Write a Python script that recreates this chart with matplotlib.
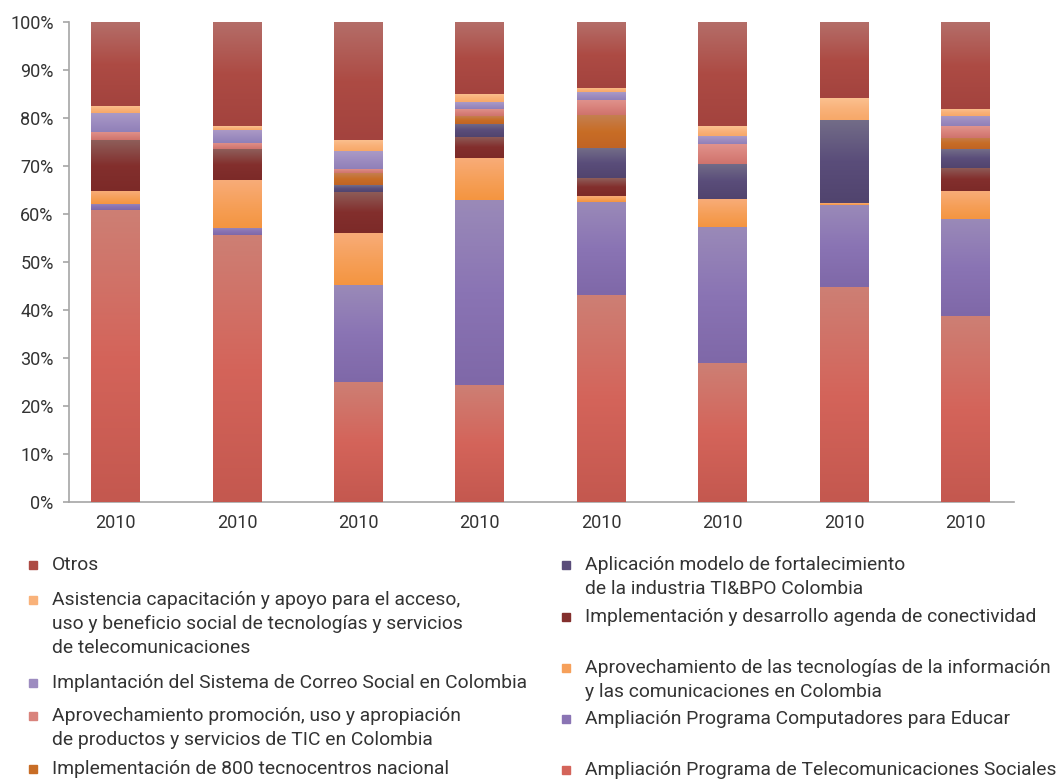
import numpy as np
import matplotlib
matplotlib.use("Agg")
import matplotlib.pyplot as plt
from matplotlib.colors import LinearSegmentedColormap
from matplotlib.lines import Line2D

plt.rcParams['font.family'] = ['Roboto', 'DejaVu Sans']

years = ['2010'] * 8

# participacion (%) de cada proyecto, de abajo hacia arriba en la pila
telecom_sociales = [60.8, 55.6, 25.1, 24.3, 43.1, 28.9, 44.7, 38.7]
computadores = [1.3, 1.5, 20.1, 38.6, 19.4, 28.4, 17.2, 20.3]
aprov_tic = [2.7, 10.0, 10.8, 8.7, 1.25, 5.8, 0.4, 5.8]
agenda_conectividad = [10.6, 6.4, 8.6, 4.4, 3.75, 0.0, 0.0, 4.8]
ti_bpo = [0.0, 0.0, 1.4, 2.75, 6.25, 7.3, 17.3, 3.9]
tecnocentros = [0.0, 0.0, 2.5, 1.65, 6.85, 0.0, 0.0, 2.3]
promocion_tic = [1.7, 1.3, 0.9, 1.5, 3.15, 4.2, 0.0, 2.5]
correo_social = [3.9, 2.7, 3.7, 1.4, 1.65, 1.65, 0.0, 2.1]
asistencia = [1.5, 0.8, 2.3, 1.7, 0.85, 2.05, 4.6, 1.5]
otros = [17.5, 21.7, 24.6, 15.0, 13.75, 21.7, 15.8, 18.1]

series = [
    ('Ampliación Programa de Telecomunicaciones Sociales', telecom_sociales,
     ['#cd7f74', '#d4645a', '#c4584f']),
    ('Ampliación Programa Computadores para Educar', computadores,
     ['#9a8ab8', '#8a74b4', '#7f68a8']),
    ('Aprovechamiento de las tecnologías de la información\ny las comunicaciones en Colombia', aprov_tic,
     ['#f8ac78', '#f6a05a', '#f49540']),
    ('Implementación y desarrollo agenda de conectividad', agenda_conectividad,
     ['#8e5e5a', '#832f2d', '#7c2a28']),
    ('Aplicación modelo de fortalecimiento\nde la industria TI&BPO Colombia', ti_bpo,
     ['#736d88', '#5a4d7a', '#51446e']),
    ('Implementación de 800 tecnocentros nacional', tecnocentros,
     ['#c47f50', '#c86d26', '#c06424']),
    ('Aprovechamiento promoción, uso y apropiación\nde productos y servicios de TIC en Colombia', promocion_tic,
     ['#e0948e', '#d9837c', '#cf736d']),
    ('Implantación del Sistema de Correo Social en Colombia', correo_social,
     ['#aa9ac6', '#9d8cc0', '#9080b8']),
    ('Asistencia capacitación y apoyo para el acceso,\nuso y beneficio social de tecnologías y servicios\nde telecomunicaciones', asistencia,
     ['#fbc292', '#f9b27a', '#f7a868']),
    ('Otros', otros,
     ['#b46e69', '#ad4b44', '#a3433e']),
]

W, H = 1059, 783
fig = plt.figure(figsize=(W / 100, H / 100), dpi=100)
ax = fig.add_axes([69 / W, (H - 502) / H, (1014 - 69) / W, (502 - 22) / H])

x = np.arange(len(years))
width = 0.40
bottom = np.zeros(len(years))
grad = np.linspace(0, 1, 128).reshape(-1, 1)
for name, vals, stops in series:
    vals = np.array(vals)
    bars = ax.bar(x, vals, width, bottom=bottom, color=stops[1], linewidth=0, zorder=2)
    cmap = LinearSegmentedColormap.from_list(name, stops)
    # degradado vertical dentro de cada segmento
    for b in bars:
        if b.get_height() <= 0:
            continue
        x0, y0 = b.get_x(), b.get_y()
        ax.imshow(grad, cmap=cmap, aspect='auto', origin='upper', interpolation='bilinear',
                  extent=(x0, x0 + b.get_width(), y0, y0 + b.get_height()), zorder=3)
    bottom += vals

ax.set_xlim(-0.383, 7.40)
ax.set_ylim(0, 100)
ax.set_xticks(x)
ax.set_xticklabels(years)
ax.set_yticks(np.arange(0, 101, 10))
ax.set_yticklabels([f'{v}%' for v in range(0, 101, 10)])

for s in ['top', 'right']:
    ax.spines[s].set_visible(False)
for s in ['left', 'bottom']:
    ax.spines[s].set_color('#a6a6a6')
    ax.spines[s].set_linewidth(1.2)
ax.tick_params(axis='y', length=4, width=1.2, color='#a6a6a6', pad=7,
               labelsize=13, labelcolor='#333333')
ax.tick_params(axis='x', length=0, pad=9, labelsize=13, labelcolor='#333333')

# leyenda en dos columnas, orden inverso a la pila
legend_pos = {
    'Otros': (33, 52, 565),
    'Asistencia': (33, 52, 600),
    'Implantación': (33, 52, 683),
    'Aprovechamiento promoción': (33, 52, 716),
    'Implementación de 800': (33, 52, 769),
    'Aplicación': (566, 585, 565),
    'Implementación y desarrollo': (566, 585, 617),
    'Aprovechamiento de las': (566, 585, 668),
    'Ampliación Programa Computadores': (566, 585, 719),
    'Ampliación Programa de': (566, 585, 770),
}
line_step = 24
for name, vals, stops in series:
    key = next(k for k in legend_pos if name.startswith(k))
    mx, tx, ty = legend_pos[key]
    fig.add_artist(Line2D([mx / W], [1 - ty / H], marker='s', markersize=5.2,
                          color=stops[1], linestyle='none', transform=fig.transFigure))
    for i, line in enumerate(name.split('\n')):
        fig.text(tx / W, 1 - (ty + i * line_step) / H, line, fontsize=13.9,
                 color='#333333', va='center', ha='left')

fig.savefig('out.png', dpi=100)
